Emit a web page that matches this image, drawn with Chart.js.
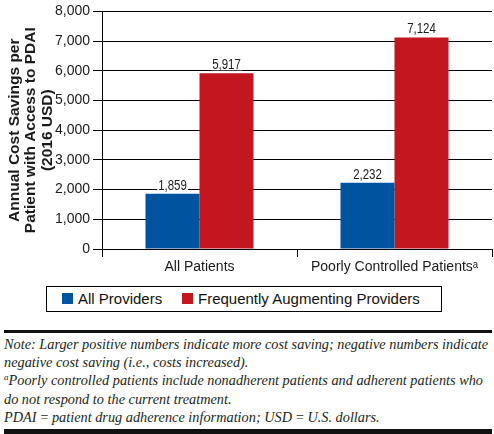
<!DOCTYPE html>
<html>
<head>
<meta charset="utf-8">
<script src="https://cdn.jsdelivr.net/npm/chart.js@4/dist/chart.umd.min.js"></script>
<style>
  html, body { margin: 0; padding: 0; background: #fff; }
  body { width: 494px; height: 434px; position: relative; overflow: hidden; }
  #wrap { position: absolute; left: 0; top: 0; width: 494px; height: 280px; }
  #legend { position: absolute; left: 46px; top: 286px; width: 394px; height: 24px;
    border: 1.5px solid #000; font-family: "Liberation Sans", Arial, sans-serif; font-size: 15px; color: #111; }
  .sw { position: absolute; top: 6px; width: 11px; height: 11px; }
  .lt { position: absolute; top: 3px; white-space: nowrap; line-height: 17px; }
  #rule1 { position: absolute; left: 4px; top: 330px; width: 488px; height: 3px; background: #111; }
  #rule2 { position: absolute; left: 4px; top: 429px; width: 488px; height: 5px; background: #111; }
  #notes { position: absolute; left: 4px; top: 335px; width: 490px; font-family: "Liberation Serif", "Times New Roman", serif;
    font-style: italic; font-size: 14.3px; line-height: 18.2px; color: #231f20; white-space: nowrap; }
  #notes sup { font-size: 9px; vertical-align: 5px; line-height: 0; }
</style>
</head>
<body>
<div id="wrap"><canvas id="c" width="494" height="280"></canvas></div>
<div id="legend">
  <div class="sw" style="left:15px;background:#00539f"></div><div class="lt" style="left:31px" id="l1"></div>
  <div class="sw" style="left:135px;background:#c3161f"></div><div class="lt" style="left:151px" id="l2"></div>
</div>
<div id="rule1"></div>
<div id="notes">
  Note: Larger positive numbers indicate more cost saving; negative numbers indicate<br>
  negative cost saving (i.e., costs increased).<br>
  <sup>a</sup>Poorly controlled patients include nonadherent patients and adherent patients who<br>
  do not respond to the current treatment.<br>
  PDAI&#8201;=&#8201;patient drug adherence information; USD&#8201;=&#8201;U.S. dollars.
</div>
<div id="rule2"></div>
<script>
const categories = ["All Patients", "Poorly Controlled Patients\u1D43"];
const seriesNames = ["All Providers", "Frequently Augmenting Providers"];
const allProviders = [1859, 2232];
const frequentlyAugmenting = [5917, 7124];
const yTicks = [0, 1000, 2000, 3000, 4000, 5000, 6000, 7000, 8000];
const yTitle = ["Annual Cost Savings per", "Patient with Access to PDAI", "(2016 USD)"];

document.getElementById('l1').textContent = seriesNames[0];
document.getElementById('l2').textContent = seriesNames[1];

const fmt = v => v.toLocaleString('en-US');

const labelPlugin = {
  id: 'barLabels',
  afterDatasetsDraw(chart) {
    const ctx = chart.ctx;
    ctx.save();
    ctx.font = '14px "Liberation Sans", Arial, sans-serif';
    ctx.textBaseline = 'alphabetic';
    ctx.textAlign = 'center';
    chart.data.datasets.forEach((ds, di) => {
      const meta = chart.getDatasetMeta(di);
      meta.data.forEach((bar, i) => {
        const txt = fmt(ds.data[i]);
        const sx = 0.82;
        const w = ctx.measureText(txt).width * sx;
        const base = bar.y - 4;
        ctx.fillStyle = '#fff';
        ctx.fillRect(bar.x - w / 2 - 1, base - 11, w + 2, 12);
        ctx.save();
        ctx.translate(bar.x, base);
        ctx.scale(sx, 1);
        ctx.fillStyle = '#1a1a1a';
        ctx.fillText(txt, 0, 0);
        ctx.restore();
      });
    });
    ctx.restore();
  }
};

new Chart(document.getElementById('c'), {
  type: 'bar',
  data: {
    labels: categories,
    datasets: [
      { label: seriesNames[0], data: allProviders, backgroundColor: '#00539f', borderWidth: 0 },
      { label: seriesNames[1], data: frequentlyAugmenting, backgroundColor: '#c3161f', borderWidth: 0 }
    ]
  },
  options: {
    responsive: false,
    animation: false,
    events: [],
    layout: { padding: { top: 8, right: 2, left: 0, bottom: 0 } },
    datasets: { bar: { categoryPercentage: 0.554, barPercentage: 1 } },
    plugins: { legend: { display: false }, tooltip: { enabled: false } },
    scales: {
      x: {
        grid: { drawOnChartArea: false, drawTicks: true, tickLength: 8, color: '#000', lineWidth: 1 },
        border: { display: true, color: '#000', width: 1 },
        ticks: { color: '#1a1a1a', padding: 2, font: { family: '"Liberation Sans", Arial, sans-serif', size: 14 } },
        afterFit: s => { s.height = 31; }
      },
      y: {
        min: 0, max: 8000,
        afterBuildTicks: s => { s.ticks = yTicks.map(v => ({ value: v })); },
        grid: { color: '#000', lineWidth: 1, tickLength: 9, drawTicks: true },
        border: { display: true, color: '#000', width: 1 },
        ticks: { color: '#1a1a1a', padding: 3, callback: v => fmt(v),
          font: { family: '"Liberation Sans", Arial, sans-serif', size: 14 } },
        title: { display: true, text: yTitle, color: '#1a1a1a', padding: { top: 6, bottom: 0 },
          font: { family: '"Liberation Sans", Arial, sans-serif', size: 15.5, weight: 'bold', lineHeight: 1.07 } },
        afterFit: s => { s.width = 102; }
      }
    }
  },
  plugins: [labelPlugin]
});
</script>
</body>
</html>
